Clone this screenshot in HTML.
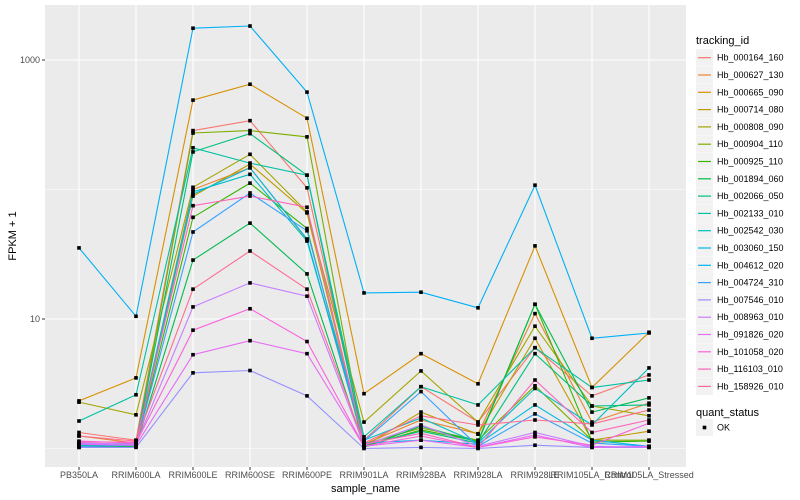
<!DOCTYPE html>
<html><head><meta charset="utf-8"><style>
html,body{margin:0;padding:0;background:#fff}
svg{display:block;font-family:"Liberation Sans",sans-serif}
</style></head><body>
<svg id="chart" width="800" height="500" xmlns="http://www.w3.org/2000/svg"></svg>
<script>
const categories = ["PB350LA","RRIM600LA","RRIM600LE","RRIM600SE","RRIM600PE","RRIM901LA","RRIM928BA","RRIM928LA","RRIM928LE","RRIM105LA_Control","RRIM105LA_Stressed"];
const seriesIds = ["Hb_000164_160","Hb_000627_130","Hb_000665_090","Hb_000714_080","Hb_000808_090","Hb_000904_110","Hb_000925_110","Hb_001894_060","Hb_002066_050","Hb_002133_010","Hb_002542_030","Hb_003060_150","Hb_004612_020","Hb_004724_310","Hb_007546_010","Hb_008963_010","Hb_091826_020","Hb_101058_020","Hb_116103_010","Hb_158926_010"];
const seriesColors = ["#F8766D","#EA8331","#D89000","#C09B00","#A3A500","#7CAE00","#39B600","#00BB4E","#00BF7D","#00C1A3","#00BFC4","#00BAE0","#00B0F6","#35A2FF","#9590FF","#C77CFF","#E76BF3","#FA62DB","#FF62BC","#FF6C91"];
const s000164 = [1.33,1.16,285,340,103,1.16,3.0,1.6,6.0,2.55,3.7];
const s000627 = [1.25,1.1,100,147,41,1.08,1.66,1.3,11,1.6,2.24];
const s000665 = [2.33,3.51,490,650,355,2.65,5.4,3.16,36.7,2.96,7.9];
const s000714 = [1.04,1.06,89,157,66,1.04,1.91,1.29,7.1,1.16,1.36];
const s000808 = [2.28,1.82,104,187,67,1.6,3.97,1.6,8.8,2.13,1.79];
const s000904 = [1.06,1.08,273,285,255,1.08,1.44,1.16,3.05,1.16,1.16];
const s000925 = [1.04,1.06,61,112,50,1.04,1.39,1.14,13,1.12,1.14];
const s001894 = [1.02,1.04,28.5,55,22.3,1.02,1.49,1.12,13,1.91,2.46];
const s002066 = [1.04,1.08,195,270,129,1.06,1.36,1.1,5.4,2.13,2.17];
const s002133 = [1.63,2.6,210,160,129,1.23,3.0,2.17,6.0,2.96,3.38];
const s002542 = [1.06,1.1,96,131,40,1.16,1.72,1.1,2.91,1.52,4.19];
const s003060 = [1.08,1.08,92,147,41.5,1.1,1.16,1.08,2.17,1.16,1.04];
const s004612 = [35.4,10.5,1760,1830,565,15.9,16.1,12.2,108,7.1,7.8];
const s004724 = [1.04,1.06,47,94,48,1.14,2.75,1.04,1.85,1.1,1.04];
const s007546 = [1.02,1.02,3.84,4.0,2.55,1.0,1.02,1.0,1.06,1.02,1.02];
const s008963 = [1.1,1.08,12.4,19,15,1.06,1.52,1.04,1.33,1.04,1.02];
const s091826 = [1.08,1.06,5.3,6.8,5.4,1.04,1.16,1.02,1.27,1.02,1.04];
const s101058 = [1.14,1.1,8.2,12,6.7,1.04,1.25,1.02,1.23,1.06,1.57];
const s116103 = [1.12,1.12,75,89,73,1.08,1.31,1.02,3.38,1.33,1.66];
const s158926 = [1.25,1.14,17,33.5,17,1.1,1.79,1.52,1.66,1.55,1.98];
const seriesValues = [s000164,s000627,s000665,s000714,s000808,s000904,s000925,s001894,s002066,s002133,s002542,s003060,s004612,s004724,s007546,s008963,s091826,s101058,s116103,s158926];
const yMajorTicks = [10,1000];
const yMinorTicks = [1,100];
const yTickLabels = ["10","1000"];

const NS="http://www.w3.org/2000/svg";
const svg=document.getElementById('chart');
const P={l:45,r:686,t:5,b:467};
function xPos(i){return 79+57*i;}
function yPos(v){return 319-129.5*(Math.log10(v)-1);}
function mk(tag,attrs,parent){const e=document.createElementNS(NS,tag);for(const k in attrs)e.setAttribute(k,attrs[k]);(parent||svg).appendChild(e);return e;}

const panel=mk('rect',{x:P.l,y:P.t,width:P.r-P.l,height:P.b-P.t,fill:'#EBEBEB'});


yMinorTicks.forEach(v=>{const l=mk('line',{x1:P.l,x2:P.r,y1:yPos(v),y2:yPos(v),stroke:'#fff','stroke-width':0.6});

});
yMajorTicks.forEach((v,i)=>{const y=yPos(v);
const l=mk('line',{x1:P.l,x2:P.r,y1:y,y2:y,stroke:'#fff','stroke-width':1.1});


mk('line',{x1:P.l-3,x2:P.l,y1:y,y2:y,stroke:'#333','stroke-width':1});
const t=mk('text',{x:P.l-5,y:y+3,'text-anchor':'end','font-size':9,fill:'#4D4D4D'});t.textContent=yTickLabels[i];

});
categories.forEach((c,i)=>{const x=xPos(i);
const l=mk('line',{x1:x,x2:x,y1:P.t,y2:P.b,stroke:'#fff','stroke-width':1.1});


mk('line',{x1:x,x2:x,y1:P.b,y2:P.b+3,stroke:'#333','stroke-width':1});
const t=mk('text',{x:x,y:P.b+11,'text-anchor':'middle','font-size':9,fill:'#4D4D4D'});t.textContent=c;

});

seriesValues.forEach((vals,s)=>{
const pts=vals.map((v,i)=>xPos(i)+','+yPos(v).toFixed(1)).join(' ');
const pl=mk('polyline',{points:pts,fill:'none',stroke:seriesColors[s],'stroke-width':1.1});

});
seriesValues.forEach((vals,s)=>{vals.forEach((v,i)=>{
const c=mk('rect',{x:xPos(i)-1.8,y:yPos(v)-1.8,width:3.6,height:3.6,fill:'#000'});

});});

const xt=mk('text',{x:(P.l+P.r)/2,y:492,'text-anchor':'middle','font-size':11,fill:'#000'});xt.textContent='sample_name';


const yt=mk('text',{x:0,y:0,'text-anchor':'middle','font-size':11,fill:'#000',transform:'translate(16,'+((P.t+P.b)/2)+') rotate(-90)'});yt.textContent='FPKM + 1';



const lt=mk('text',{x:696,y:44,'font-size':11,fill:'#000'});lt.textContent='tracking_id';


seriesIds.forEach((id,s)=>{const cy=57.7+17.3*s;
const g=mk('g',{});


mk('rect',{x:696,y:cy-8.5,width:17,height:17,fill:'#F2F2F2'},g);
mk('line',{x1:698,x2:711,y1:cy,y2:cy,stroke:seriesColors[s],'stroke-width':1.2},g);
const t=mk('text',{x:717,y:cy+3,'font-size':9,fill:'#000'},g);t.textContent=id;});
const qt=mk('text',{x:696,y:416,'font-size':11,fill:'#000'});qt.textContent='quant_status';


const qg=mk('g',{});


mk('rect',{x:696,y:419,width:17,height:17,fill:'#F2F2F2'},qg);
mk('rect',{x:702.7,y:425.7,width:3.6,height:3.6,fill:'#000'},qg);
const ok=mk('text',{x:717,y:430.5,'font-size':9,fill:'#000'},qg);ok.textContent='OK';
</script>
</body></html>
